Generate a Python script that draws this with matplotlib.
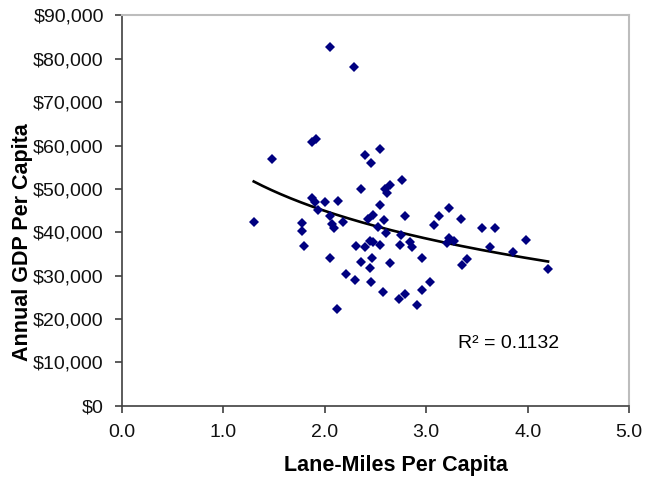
import numpy as np
import matplotlib.pyplot as plt
from matplotlib.ticker import FuncFormatter

plt.rcParams['font.family'] = ['Liberation Sans', 'DejaVu Sans']

# lane-miles per capita vs annual GDP per capita (thousands of $)
lane_miles = [1.30, 1.48, 1.78, 1.78, 1.80, 1.87, 1.91, 1.87, 1.90, 1.93,
              2.00, 2.13, 2.05, 2.29, 2.05, 2.07, 2.09, 2.18, 2.05, 2.12,
              2.21, 2.30, 2.31, 2.36, 2.40, 2.46, 2.54, 2.76, 2.59, 2.64,
              2.61, 2.54, 2.48, 2.43, 2.58, 2.52, 2.60, 2.40, 2.45, 2.48,
              2.54, 2.36, 2.47, 2.45, 2.64, 2.46, 2.57, 2.79, 2.75, 2.74,
              2.84, 2.86, 2.96, 3.04, 2.96, 2.73, 2.79, 2.91, 3.08, 3.13,
              3.22, 3.34, 3.22, 3.27, 3.20, 3.55, 3.68, 3.63, 3.85, 3.98,
              3.40, 3.35, 4.20]
gdp_k = [42.3, 57.0, 42.2, 40.2, 36.8, 60.8, 61.6, 47.8, 47.0, 45.1,
         47.1, 47.2, 82.7, 78.0, 43.8, 41.9, 41.0, 42.3, 34.1, 22.3,
         30.3, 29.1, 36.8, 49.9, 57.8, 55.9, 59.2, 52.0, 49.9, 50.9,
         49.0, 46.4, 44.1, 43.0, 42.8, 41.2, 39.8, 36.6, 38.1, 37.8,
         37.0, 33.2, 34.0, 31.7, 33.0, 28.6, 26.2, 43.7, 39.4, 37.1,
         37.8, 36.6, 34.0, 28.6, 26.7, 24.7, 25.8, 23.3, 41.7, 43.8,
         45.5, 43.0, 38.8, 38.0, 37.5, 40.9, 40.9, 36.7, 35.5, 38.2,
         33.8, 32.5, 31.5]
r2_label = "R² = 0.1132"

x = np.array(lane_miles)
y = np.array(gdp_k) * 1000

# logarithmic trendline, like excel
b, a = np.polyfit(np.log(x), y, 1)
xt = np.linspace(x.min(), x.max(), 200)
yt = a + b * np.log(xt)

fig = plt.figure(figsize=(6.48, 4.82), dpi=100)
ax = fig.add_axes([0.188, 0.158, 0.783, 0.81])

ax.plot(xt, yt, color='black', lw=1.9, zorder=2)
ax.plot(x, y, 'D', color='#000080', ms=5, mew=0, zorder=3)

ax.set_xlim(0, 5)
ax.set_ylim(0, 90000)
ax.set_xticks(np.arange(0, 5.01, 1.0))
ax.set_yticks(np.arange(0, 90001, 10000))
ax.xaxis.set_major_formatter(FuncFormatter(lambda v, p: f"{v:.1f}"))
ax.yaxis.set_major_formatter(FuncFormatter(lambda v, p: f"${v:,.0f}"))
ax.tick_params(labelsize=14, colors='#404040', labelcolor='#111111', length=5, width=1.2)
ax.tick_params(axis='y', pad=8)
ax.tick_params(axis='x', pad=8)

for s in ['left', 'bottom']:
    ax.spines[s].set_color('#404040')
    ax.spines[s].set_linewidth(1.2)
for s in ['top', 'right']:
    ax.spines[s].set_color('#bdbdbd')
    ax.spines[s].set_linewidth(1.5)

ax.set_xlabel('Lane-Miles Per Capita', fontsize=15.5, fontweight='bold', labelpad=12)
ax.set_ylabel('Annual GDP Per Capita', fontsize=15.5, fontweight='bold', labelpad=1)
# excel centres the titles on the chart area, not the plot area
ax.xaxis.set_label_coords(0.541, -0.125)
ax.yaxis.set_label_coords(-0.176, 0.42)

ax.text(3.31, 14300, r2_label, fontsize=14, va='center', ha='left')

fig.savefig('out.png', dpi=100)
